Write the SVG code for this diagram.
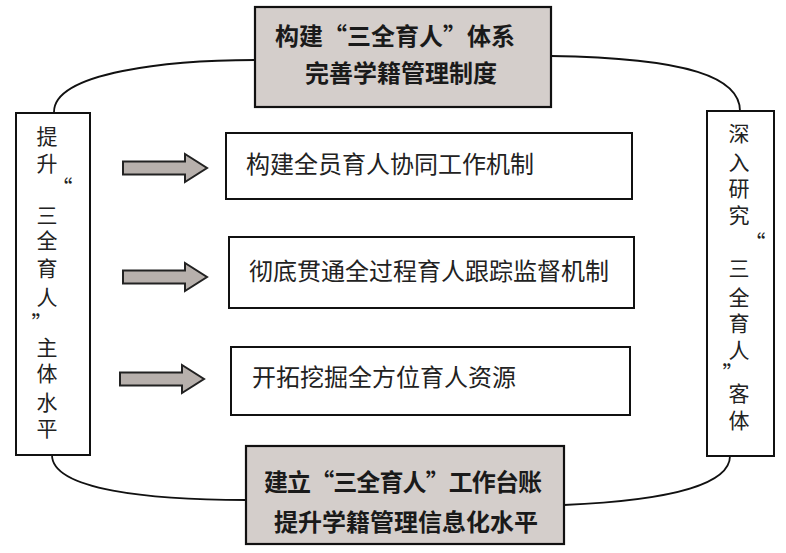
<svg xmlns="http://www.w3.org/2000/svg" width="786" height="553" viewBox="0 0 786 553">
<style>
.box{fill:#fff;stroke:#111;stroke-width:2}
.gbox{fill:#d4cecb;stroke:#111;stroke-width:2.2}
.arr{fill:#b7b0ac;stroke:#222;stroke-width:2}
.conn{fill:none;stroke:#111;stroke-width:1.8}
.t{font-family:"Noto Sans CJK SC","Noto Sans",sans-serif;font-size:24px;fill:#222}
.b{font-family:"Noto Sans CJK SC","Noto Sans",sans-serif;font-size:24px;font-weight:700;fill:#1a1a1a}
.v{font-family:"Noto Sans CJK SC","Noto Sans",sans-serif;font-size:21px;fill:#222;text-anchor:middle}
</style>
<defs>
<path id="arrowShape" d="M0,-6.5 H62 V-14 L84,0 L62,14 V6.5 H0 Z"/>
</defs>
<g id="connectors">
<path class="conn" d="M54,112 C54,72 170,60 255,60"/>
<path class="conn" d="M551,56 C690,58 740,78 740,111"/>
<path class="conn" d="M52,455 C52,490 150,500 246,500"/>
<path class="conn" d="M564,505 C680,500 730,482 730,456"/>
<use href="#arrowShape" class="arr" x="123" y="168"/>
<use href="#arrowShape" class="arr" x="123" y="277"/>
<use href="#arrowShape" class="arr" x="120" y="379"/>
</g>
<g id="top">
<rect class="gbox" x="255" y="7" width="296" height="100"/>
<text class="b" x="275" y="45" textLength="240" lengthAdjust="spacing">构建“三全育人”体系</text>
<text class="b" x="305" y="82">完善学籍管理制度</text>
</g>
<g id="bottom">
<rect class="gbox" x="246" y="446" width="318" height="98"/>
<text class="b" x="264" y="491" textLength="278" lengthAdjust="spacing">建立“三全育人”工作台账</text>
<text class="b" x="274" y="531">提升学籍管理信息化水平</text>
</g>
<g id="left">
<rect class="box" x="16" y="113" width="74" height="342"/>
<text class="v"><tspan x="47" y="144">提</tspan><tspan x="47" y="171">升</tspan><tspan x="62" y="195">“</tspan><tspan x="47" y="223">三</tspan><tspan x="47" y="248">全</tspan><tspan x="47" y="276">育</tspan><tspan x="47" y="305">人</tspan><tspan x="42" y="331">”</tspan><tspan x="47" y="355">主</tspan><tspan x="47" y="381">体</tspan><tspan x="47" y="410">水</tspan><tspan x="47" y="436">平</tspan></text>
</g>
<g id="right">
<rect class="box" x="707" y="111" width="67" height="345"/>
<text class="v"><tspan x="739" y="141">深</tspan><tspan x="739" y="170">入</tspan><tspan x="739" y="196">研</tspan><tspan x="739" y="223">究</tspan><tspan x="755" y="250">“</tspan><tspan x="739" y="276">三</tspan><tspan x="739" y="305">全</tspan><tspan x="739" y="331">育</tspan><tspan x="739" y="358">人</tspan><tspan x="733" y="381">”</tspan><tspan x="739" y="401">客</tspan><tspan x="739" y="428">体</tspan></text>
</g>
<g id="m1">
<rect class="box" x="226" y="133" width="406" height="66"/>
<text class="t" x="246" y="173">构建全员育人协同工作机制</text>
</g>
<g id="m2">
<rect class="box" x="229" y="237" width="405" height="71"/>
<text class="t" x="249" y="280">彻底贯通全过程育人跟踪监督机制</text>
</g>
<g id="m3">
<rect class="box" x="231" y="347" width="399" height="68"/>
<text class="t" x="252" y="386">开拓挖掘全方位育人资源</text>
</g>
</svg>
